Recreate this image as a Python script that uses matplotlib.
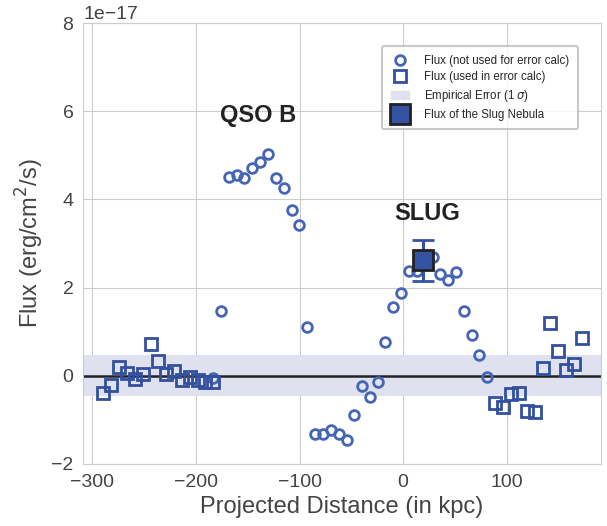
import numpy as np
import matplotlib.pyplot as plt
import seaborn as sns
from matplotlib.lines import Line2D
from matplotlib.patches import Patch

sns.set_style("whitegrid")
plt.rcParams['font.family'] = ['Liberation Sans', 'DejaVu Sans']

scale = 1e-17

# circles: flux not used for error calc
circ_x = [-183.5, -175.5, -168.1, -160.7, -153.3, -145.6, -138.2, -130.4, -123.0, -115.3,
          -107.5, -100.2, -92.8, -85.3, -77.6, -69.9, -62.1, -54.4, -47.1, -39.6,
          -32.2, -24.4, -17.1, -9.4, -1.9, 5.8, 13.2, 29.3, 36.0, 43.5,
          51.2, 58.8, 66.4, 73.7, 81.4]
circ_y = [-0.05, 1.48, 4.52, 4.56, 4.49, 4.71, 4.85, 5.03, 4.49, 4.26,
          3.77, 3.42, 1.11, -1.32, -1.33, -1.24, -1.32, -1.45, -0.90, -0.23,
          -0.49, -0.15, 0.77, 1.55, 1.88, 2.37, 2.37, 2.70, 2.32, 2.18,
          2.35, 1.47, 0.93, 0.46, -0.02]

# squares: flux used in error calc
sq_x = [-289.9, -282.1, -274.4, -266.4, -258.9, -251.5, -243.8, -236.4, -229.0, -221.3,
        -213.5, -205.8, -198.4, -191.0, -183.3,
        88.9, 96.6, 104.1, 111.8, 119.5, 127.2, 134.6, 142.3, 149.8, 157.2, 164.9, 172.7]
sq_y = [-0.38, -0.20, 0.19, 0.06, -0.08, 0.04, 0.71, 0.34, 0.04, 0.11,
        -0.09, -0.02, -0.09, -0.15, -0.15,
        -0.61, -0.70, -0.41, -0.39, -0.81, -0.82, 0.17, 1.20, 0.57, 0.13, 0.27, 0.86]

emp_err = 0.47
slug_x = 19.6
slug_y = 2.62
slug_err = 0.46

circ_col = '#4565b5'
sq_col = '#33509e'

fig = plt.figure(figsize=(6.07, 5.26), dpi=100)
ax = fig.add_axes([0.137, 0.118, 0.853, 0.838])

ax.axhspan(-emp_err * scale, emp_err * scale, color='#dfe1ef', zorder=1, lw=0)
ax.axhline(0, color='#222222', lw=1.8, zorder=2)

ax.plot(np.array(circ_x), np.array(circ_y) * scale, 'o', ms=7, mfc='none',
        mec=circ_col, mew=2, zorder=3)
ax.plot(np.array(sq_x), np.array(sq_y) * scale, 's', ms=8, mfc='none',
        mec=sq_col, mew=2, zorder=3)
ax.errorbar([slug_x], [slug_y * scale], yerr=[slug_err * scale], fmt='s', ms=14,
            mfc='#3553a3', mec='#222222', mew=2, ecolor='#3553a3', elinewidth=2.2,
            capsize=8, capthick=2.2, zorder=4)

ax.text(-140, 5.9 * scale, 'QSO B', fontsize=17, fontweight='bold', ha='center', va='center',
        color='#222222')
ax.text(23, 3.68 * scale, 'SLUG', fontsize=17, fontweight='bold', ha='center', va='center',
        color='#222222')

ax.set_xlim(-309, 191)
ax.set_ylim(-2 * scale, 8 * scale)
ax.set_xticks([-300, -200, -100, 0, 100])
ax.tick_params(labelsize=14, colors='#444444')
ax.yaxis.get_offset_text().set_fontsize(14)
ax.yaxis.get_offset_text().set_color('#444444')
ax.set_xlabel('Projected Distance (in kpc)', fontsize=17, color='#444444')
ax.set_ylabel('Flux (erg/cm$^2$/s)', fontsize=17, color='#444444')

handles = [
    Line2D([], [], marker='o', ls='none', ms=7, mfc='none', mec=circ_col, mew=2),
    Line2D([], [], marker='s', ls='none', ms=8, mfc='none', mec=sq_col, mew=2),
    Patch(color='#dfe1ef'),
    ax.containers[0],
]
labels = ['Flux (not used for error calc)', 'Flux (used in error calc)',
          r'Empirical Error (1 $\sigma$)', 'Flux of the Slug Nebula']
leg = ax.legend(handles, labels, loc='upper right', fontsize=8.3, frameon=True,
                borderaxespad=2.0, borderpad=0.75, labelspacing=0.4, handlelength=1.6,
                handletextpad=1.3)
leg.get_frame().set_edgecolor('#bbbbbb')
leg.get_frame().set_linewidth(1.5)

fig.savefig('out.png', dpi=100)
